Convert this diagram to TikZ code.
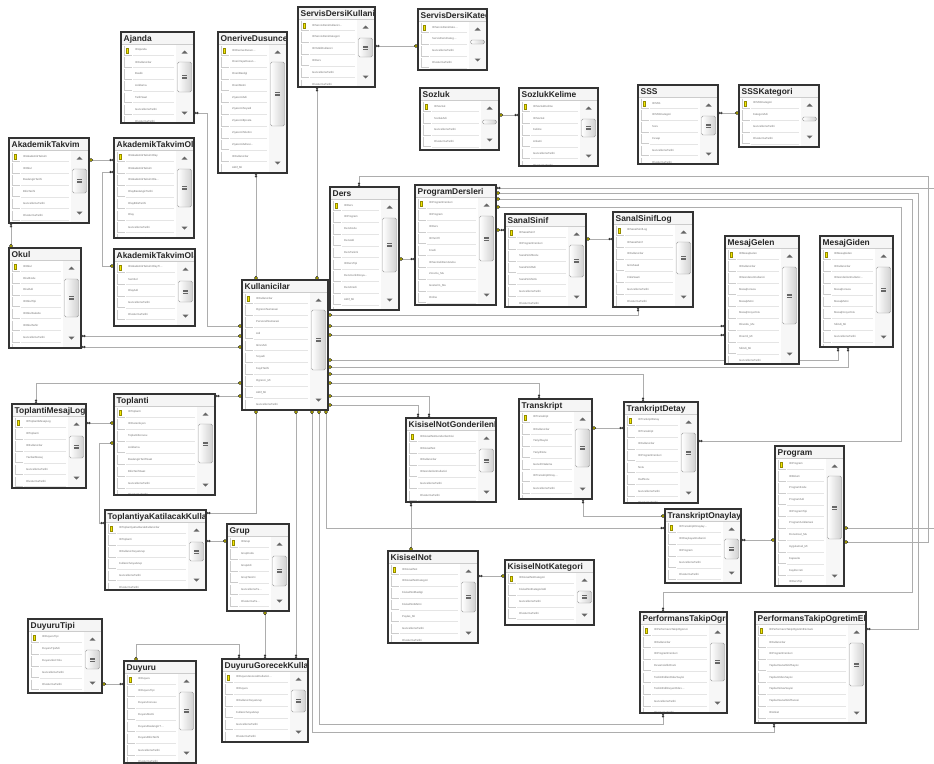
\documentclass[tikz,border=0pt]{standalone}
\usepackage{fontspec}
\setmainfont{Liberation Sans}
\usetikzlibrary{arrows.meta,backgrounds}
\definecolor{keyyellow}{HTML}{F5E800}

% one table of the diagram: name, top left x/y, width/height, title, fields, scroll thumb top/length
\newcommand{\dbtable}[9]{%
  \node[tablebox, minimum width=#4pt, minimum height=#5pt, anchor=north west] (#1) at (#2,#3) {};
  \begin{scope}
    \clip (#1.north west) rectangle (#1.south east);
    \fill[titlebar] (#1.north west) rectangle ({#2+#4},{#3+12});
    \draw[titleline] ({#2},{#3+12}) -- ({#2+#4},{#3+12});
    \node[tabletitle] at ({#2+2.5},{#3+9.6}) {#6};
    \foreach \fld [count=\i] in {#7} {
      \pgfmathsetmacro\rowtop{#3+12+(\i-1)*11.8}
      \draw[cellline] ({#2+3.5},{\rowtop+1.5}) |- ({#2+10.5},{\rowtop+11.2});
      \draw[rowline] ({#2+12},{\rowtop+11.4}) -- ({#2+#4-20},{\rowtop+11.4});
      \node[fieldtext] at ({#2+14},{\rowtop+6.2}) {\fld};
    }
    \fill[keyyellow, draw=keyyellow!60!black, line width=.15pt] ({#2+5.3},{#3+16.5}) rectangle ({#2+7.1},{#3+21});
    \fill[scrolltrack] ({#2+#4-18},{#3+12.5}) rectangle ({#2+#4-1},{#3+#5-1});
    \fill[scrollarrow] ({#2+#4-12.5},{#3+21.5}) -- ({#2+#4-6.5},{#3+21.5}) -- ({#2+#4-9.5},{#3+18.5}) -- cycle;
    \fill[scrollarrow] ({#2+#4-12.5},{#3+#5-11.5}) -- ({#2+#4-6.5},{#3+#5-11.5}) -- ({#2+#4-9.5},{#3+#5-8.5}) -- cycle;
    \draw[scrollthumb] ({#2+#4-16.5},{#3+#8}) rectangle ({#2+#4-2.5},{#3+#8+#9});
    \ifdim #9pt>10pt
      \foreach \g in {-1.6,0,1.6}
        \draw[thumbgrip] ({#2+#4-12},{#3+#8+#9/2+\g}) -- ({#2+#4-7},{#3+#8+#9/2+\g});
    \fi
  \end{scope}
  \draw[tableborder] (#1.north west) rectangle (#1.south east);
}

\begin{document}
\begin{tikzpicture}[
    x=1pt, y=-1pt,
    tablebox/.style={inner sep=0pt, outer sep=0pt, fill=white},
    tableborder/.style={draw=black!80, line width=1.2pt},
    titlebar/.style={fill=black!4},
    titleline/.style={draw=black!20, line width=.4pt},
    tabletitle/.style={anchor=base west, inner sep=0pt, text=black!85,
                       font=\fontsize{8.4}{9}\selectfont\bfseries},
    fieldtext/.style={anchor=west, inner sep=0pt, text=black!55,
                      font=\fontsize{2.8}{3}\selectfont},
    cellline/.style={draw=black!20, line width=.45pt},
    rowline/.style={draw=black!10, line width=.4pt},
    scrolltrack/.style={fill=black!3},
    scrollarrow/.style={fill=black!60},
    scrollthumb/.style={draw=black!40, line width=.4pt, rounded corners=1.5pt,
                        left color=white, right color=black!18},
    thumbgrip/.style={draw=black!60, line width=.45pt},
    rel/.style={draw=black!32, line width=.8pt},
    mk/.style={rel, arrows={Circle[open,color=black!85,length=2.3pt,width=2.3pt,line width=.5pt,sep=0pt]Circle[open,color=black!85,length=2.3pt,width=2.3pt,line width=.5pt]-Circle[color=black,fill=keyyellow,length=4pt,width=3.4pt,line width=.5pt]}}
]
\path[use as bounding box] (0,0) rectangle (934,763);

% top row
\dbtable{ajanda}{121}{32}{73}{91}{Ajanda}
  {IDAjanda,IDKullanicilar,Baslik,Aciklama,TarihSaat,GuncellemeTarihi,OlusturmaTarihi}{30}{30}
\dbtable{oneri}{218}{32}{69}{141}{OneriveDusunce}
  {IDOneriveDusun\dots,OneriVeyaDusun\dots,OneriBasligi,OneriMetni,ZiyaretciAdi,ZiyaretciSoyadi,ZiyaretciEposta,ZiyaretciTelefon,ZiyaretciAdresi\dots,IDKullanicilar,Aktif\_Mi}{30}{64}
\dbtable{sdkul}{298}{7}{77}{80}{ServisDersiKullanici}
  {IDServisDersiKullanici\dots,IDServisDersiKategori,IDYetkiliKullanici,IDDers,GuncellemeTarihi,OlusturmaTarihi}{31}{19}
\dbtable{sdkat}{418}{9}{69}{61}{ServisDersiKategori}
  {IDServisDersiKate\dots,ServisDersiKateg\dots,GuncellemeTarihi,OlusturmaTarihi}{31}{4}
\dbtable{sozluk}{420}{88}{79}{62}{Sozluk}
  {IDSozluk,SozlukAdi,GuncellemeTarihi,OlusturmaTarihi}{32}{4}
\dbtable{skelime}{519}{88}{79}{78}{SozlukKelime}
  {IDSozlukKelime,IDSozluk,Kelime,Anlami,GuncellemeTarihi,OlusturmaTarihi}{31}{18}
\dbtable{sss}{638}{85}{80}{79}{SSS}
  {IDSSS,IDSSSKategori,Soru,Cevap,GuncellemeTarihi,OlusturmaTarihi}{31}{19}
\dbtable{ssskat}{739}{85}{80}{62}{SSSKategori}
  {IDSSSKategori,KategoriAdi,GuncellemeTarihi,OlusturmaTarihi}{32}{4}

% left column
\dbtable{aktakvim}{9}{138}{80}{85}{AkademikTakvim}
  {IDAkademikTakvim,IDOkul,BaslangicTarihi,BitisTarihi,GuncellemeTarihi,OlusturmaTarihi}{31}{24}
\dbtable{akolay}{114}{138}{80}{100}{AkademikTakvimOlay}
  {IDAkademikTakvimOlay,IDAkademikTakvim,IDAkademikTakvimOla\dots,OlayBaslangicTarihi,OlayBitisTarihi,Olay,GuncellemeTarihi,OlusturmaTarihi}{31}{38}
\dbtable{akolaytip}{114}{249}{81}{77}{AkademikTakvimOlayTipi}
  {IDAkademikTakvimOlayTi\dots,Sembol,OlayAdi,GuncellemeTarihi,OlusturmaTarihi}{32}{21}
\dbtable{okul}{9}{248}{72}{100}{Okul}
  {IDOkul,OkulKodu,OkulAdi,IDOkulTipi,IDOkulFakulte,IDOkulSehir,GuncellemeTarihi,OlusturmaTarihi}{31}{38}
\dbtable{kull}{242}{280}{86}{130}{Kullanicilar}
  {IDKullanicilar,OgrenciNumarasi,PersonelNumarasi,Adi,IkinciAdi,Soyadi,KayitTarihi,Ogrenci\_Mi,Aktif\_Mi,GuncellemeTarihi,OlusturmaTarihi}{30}{60}
\dbtable{tmlog}{12}{404}{74}{84}{ToplantiMesajLog}
  {IDToplantiMesajLog,IDToplanti,IDKullanicilar,YazilanMesaj,GuncellemeTarihi,OlusturmaTarihi}{32}{22}
\dbtable{toplanti}{114}{394}{101}{101}{Toplanti}
  {IDToplanti,IDDuzenleyen,ToplantiKonusu,Aciklama,BaslangicTarihSaat,BitisTarihSaat,GuncellemeTarihi,OlusturmaTarihi}{30}{39}

% middle
\dbtable{ders}{330}{187}{69}{123}{Ders}
  {IDDers,IDProgram,DersKodu,DersAdi,DersTanimi,IDDersTipi,DersIcerikDosya\dots,DersKredi,Aktif\_Mi,GuncellemeTarihi}{31}{54}
\dbtable{pders}{415}{185}{81}{120}{ProgramDersleri}
  {IDProgramDersleri,IDProgram,IDDers,IDYariYil,Kredi,IDSecmeliDersGrubu,Zorunlu\_Mu,Gosterim\_Mu,Online,GuncellemeTarihi}{31}{45}
\dbtable{ssinif}{505}{214}{81}{93}{SanalSinif}
  {IDSanalSinif,IDProgramDersleri,SanalSinifKodu,SanalSinifAdi,SanalSinifLink,GuncellemeTarihi,OlusturmaTarihi}{31}{32}
\dbtable{sslog}{613}{212}{80}{95}{SanalSinifLog}
  {IDSanalSinifLog,IDSanalSinif,IDKullanicilar,GirisSaati,CikisSaati,GuncellemeTarihi,OlusturmaTarihi}{30}{32}
\dbtable{mgelen}{725}{236}{74}{128}{MesajGelen}
  {IDMesajGelen,IDKullanicilar,IDGonderenKullanici,MesajKonusu,MesajMetni,MesajDosyaYolu,Okundu\_Mu,Onemli\_Mi,Silindi\_Mi,GuncellemeTarihi,OlusturmaTarihi}{31}{57}
\dbtable{mgiden}{820}{236}{73}{111}{MesajGiden}
  {IDMesajGiden,IDKullanicilar,IDGonderilenKullanic\dots,MesajKonusu,MesajMetni,MesajDosyaYolu,Silindi\_Mi,GuncellemeTarihi,OlusturmaTarihi}{31}{46}
\dbtable{kngon}{406}{418}{90}{84}{KisiselNotGonderilenKisi}
  {IDKisiselNotGonderilenKisi,IDKisiselNot,IDKullanicilar,IDGonderilenKullanici,GuncellemeTarihi,OlusturmaTarihi}{31}{23}
\dbtable{transk}{519}{399}{73}{100}{Transkript}
  {IDTranskript,IDKullanicilar,YariyilSayisi,YariyilNotu,GenelOrtalama,IDTranskriptOnay\dots,GuncellemeTarihi,OlusturmaTarihi}{30}{38}
\dbtable{tdetay}{624}{402}{74}{101}{TrankriptDetay}
  {IDTrankriptDetay,IDTranskript,IDKullanicilar,IDProgramDersleri,Notu,HarfNotu,GuncellemeTarihi,OlusturmaTarihi}{31}{39}
\dbtable{program}{775}{446}{69}{140}{Program}
  {IDProgram,IDBolum,ProgramKodu,ProgramAdi,IDProgramTipi,ProgramAciklamasi,Donemsel\_Mu,Uygulamali\_Mi,Kapasite,KayitUcreti,IDDersTipi,GuncellemeTarihi}{30}{63}
\dbtable{tonay}{665}{509}{76}{74}{TranskriptOnaylayan}
  {IDTranskriptOnaylay\dots,IDOnaylayanKullanici,IDProgram,GuncellemeTarihi,OlusturmaTarihi}{30}{20}
\dbtable{ptogr}{640}{612}{87}{101}{PerformansTakipOgrenci}
  {IDPerformansTakipOgrenci,IDKullanicilar,IDProgramDersleri,DevamsizlikOrani,TeslimEdilenOdevSayisi,TeslimEdilmeyenOdev\dots,GuncellemeTarihi,OlusturmaTarihi}{31}{38}
\dbtable{ptoge}{755}{612}{111}{111}{PerformansTakipOgretimElemani}
  {IDPerformansTakipOgretimElemani,IDKullanicilar,IDProgramDersleri,YapilanSanalSinifSayisi,YapilanOdevSayisi,YapilanSinavSayisi,YapilanSanalSinifSuresi,IDAnket,GuncellemeTarihi}{31}{43}
\dbtable{knot}{388}{551}{90}{92}{KisiselNot}
  {IDKisiselNot,IDKisiselNotKategori,KisiselNotBasligi,KisiselNotMetni,Paylas\_Mi,GuncellemeTarihi,OlusturmaTarihi}{31}{30}
\dbtable{knkat}{505}{560}{89}{65}{KisiselNotKategori}
  {IDKisiselNotKategori,KisiselNotKategoriAdi,GuncellemeTarihi,OlusturmaTarihi}{31}{12}

% bottom left
\dbtable{tkatil}{105}{510}{101}{80}{ToplantiyaKatilacakKullanicilar}
  {IDToplantiyaKatilacakKullanicilar,IDToplanti,IDKullaniciVeyaGrup,KullaniciVeyaGrup,GuncellemeTarihi,OlusturmaTarihi}{32}{19}
\dbtable{grup}{227}{524}{62}{87}{Grup}
  {IDGrup,GrupKodu,GrupAdi,GrupTanimi,GuncellemeTa\dots,OlusturmaTa\dots}{32}{30}
\dbtable{dtipi}{28}{619}{74}{74}{DuyuruTipi}
  {IDDuyuruTipi,DuyuruTipiAdi,DuyuruIkonYolu,GuncellemeTarihi,OlusturmaTarihi}{31}{19}
\dbtable{duyuru}{124}{661}{72}{102}{Duyuru}
  {IDDuyuru,IDDuyuruTipi,DuyuruKonusu,DuyuruMetni,DuyuruBaslangicT\dots,DuyuruBitisTarihi,GuncellemeTarihi,OlusturmaTarihi}{31}{38}
\dbtable{dgorecek}{222}{659}{86}{83}{DuyuruGorecekKullanicilar}
  {IDDuyuruGorecekKullanici\dots,IDDuyuru,IDKullaniciVeyaGrup,KullaniciVeyaGrup,GuncellemeTarihi,OlusturmaTarihi}{31}{22}

% relationships, many side first, key side last
\begin{scope}[on background layer]
  \fill[white] (0,0) rectangle (934,763);
  \draw[mk] (ajanda.east |- 0,113) -- (207,113) |- (kull.west |- 0,326);
  \draw[mk] (okul.east |- 0,336) -- (kull.west |- 0,336);
  \draw[mk] (okul.east |- 0,347) -- (kull.west |- 0,347);
  \draw[mk] (tmlog.north -| 36,0) |- (kull.west |- 0,383);
  \draw[mk] (toplanti.east |- 0,396) -- (kull.west |- 0,396);
  \draw[mk] (tmlog.east |- 0,423) -- (toplanti.west |- 0,423);
  \draw[mk] (tkatil.west |- 0,523) -- (99,523) |- (toplanti.west |- 0,443);
  \draw[mk] (akolay.west |- 0,160) -- (aktakvim.east |- 0,160);
  \draw[mk] (akolay.west |- 0,172) -- (102,172) |- (akolaytip.west |- 0,266);
  \draw[mk] (aktakvim.south -| 11,0) -- (okul.north -| 11,0);
  \draw[mk] (oneri.south -| 256,0) -- (kull.north -| 256,0);
  \draw[mk] (sdkul.south -| 317,0) -- (kull.north -| 317,0);
  \draw[mk] (sdkul.east |- 0,46) -- (sdkat.west |- 0,46);
  \draw[mk] (skelime.west |- 0,115) -- (sozluk.east |- 0,115);
  \draw[mk] (sss.east |- 0,113) -- (ssskat.west |- 0,113);
  \draw[mk] (ders.north -| 359,0) |- (928,176) |- (program.east |- 0,542);
  \draw[mk] (pders.east |- 0,188) -- (940,188) |- (program.east |- 0,528);
  \draw[mk] (ptoge.east |- 0,629) -- (918,629) |- (pders.east |- 0,193);
  \draw[mk] (ptogr.north -| 663,0) |- (912,592) |- (pders.east |- 0,199);
  \draw[mk] (tdetay.east |- 0,441) -- (901,441) |- (pders.east |- 0,207);
  \draw[mk] (pders.west |- 0,259) -- (ders.east |- 0,259);
  \draw[mk] (ssinif.west |- 0,230) -- (pders.east |- 0,230);
  \draw[mk] (sslog.west |- 0,239) -- (ssinif.east |- 0,239);
  \draw[mk] (sslog.south -| 638,0) |- (kull.east |- 0,315);
  \draw[mk] (mgelen.west |- 0,326) -- (kull.east |- 0,326);
  \draw[mk] (mgelen.west |- 0,335) -- (kull.east |- 0,335);
  \draw[mk] (mgiden.south -| 838,0) |- (kull.east |- 0,360);
  \draw[mk] (mgiden.south -| 848,0) |- (kull.east |- 0,367);
  \draw[mk] (tdetay.north -| 643,0) |- (kull.east |- 0,374);
  \draw[mk] (transk.north -| 539,0) |- (kull.east |- 0,383);
  \draw[mk] (kngon.north -| 429,0) |- (kull.east |- 0,396);
  \draw[mk] (kngon.north -| 418,0) |- (kull.east |- 0,405);
  \draw[mk] (tdetay.west |- 0,428) -- (transk.east |- 0,428);
  \draw[mk] (transk.south -| 583,0) |- (tonay.west |- 0,516);
  \draw[mk] (tonay.west |- 0,528) -| (kull.south -| 326,0);
  \draw[mk] (tonay.east |- 0,540) -- (program.west |- 0,540);
  \draw[mk] (ptogr.south -| 663,0) |- (319,724) -- (kull.south -| 319,0);
  \draw[mk] (ptoge.south -| 774,0) |- (312,732) -- (kull.south -| 312,0);
  \draw[mk] (dgorecek.north -| 296,0) -- (kull.south -| 296,0);
  \draw[mk] (tkatil.east |- 0,513) -| (kull.south -| 256,0);
  \draw[mk] (tkatil.east |- 0,541) -- (grup.west |- 0,541);
  \draw[mk] (dgorecek.north -| 265,0) -- (grup.south -| 265,0);
  \draw[mk] (dgorecek.north -| 239,0) |- (136,644) -- (duyuru.north -| 136,0);
  \draw[mk] (duyuru.west |- 0,684) -- (dtipi.east |- 0,684);
  \draw[mk] (kngon.south -| 411,0) -- (knot.north -| 411,0);
  \draw[mk] (knot.east |- 0,576) -- (knkat.west |- 0,576);
\end{scope}
\end{tikzpicture}
\end{document}
